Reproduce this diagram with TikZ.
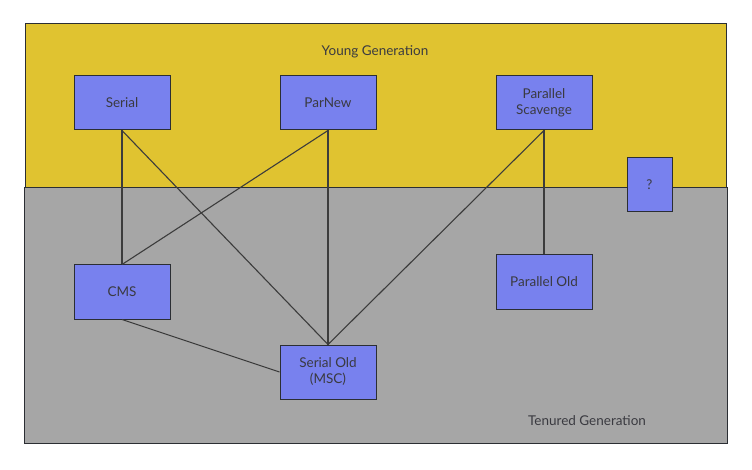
\documentclass[tikz,border=0pt]{standalone}
\usepackage{fontspec}
\setmainfont{Lato}
\definecolor{younggen}{HTML}{E0C330}
\definecolor{tenuredgen}{HTML}{A6A6A6}
\definecolor{gcblue}{HTML}{7881EE}
\definecolor{edgecol}{HTML}{2B2E33}
\definecolor{txtcol}{HTML}{3A3A40}
\definecolor{linecol}{HTML}{3C3C3C}
\begin{document}
\begin{tikzpicture}[x=1pt,y=-1pt,
  gcbox/.style={draw=edgecol,fill=gcblue,line width=1pt,minimum width=96pt,minimum height=54pt,inner sep=0pt,align=center,text=txtcol,font=\fontsize{13.5}{16}\selectfont},
  region/.style={draw=edgecol,line width=1pt},
  conn/.style={draw=linecol,line width=1.1pt},
  lbl/.style={text=txtcol,font=\fontsize{13.5}{16}\selectfont}]
\useasboundingbox (0,0) rectangle (752,470);
\fill[white] (0,0) rectangle (752,470);
\draw[region,fill=younggen] (25,24) rectangle (726,188);
\draw[region,fill=tenuredgen] (24,188) rectangle (727,443);
\node[lbl] (ylabel) at (375,51.5) {Young Generation};
\node[lbl] (tlabel) at (587,420.5) {Tenured Generation};
\node[gcbox] (serial) at (122,103) {Serial};
\node[gcbox] (parnew) at (328,103) {ParNew};
\node[gcbox] (ps) at (544,103) {Parallel\\Scavenge};
\node[gcbox,minimum width=45pt] (q) at (649.5,185) {?};
\node[gcbox] (cms) at (122,292) {CMS};
\node[gcbox] (so) at (328,372) {Serial Old\\(MSC)};
\node[gcbox] (po) at (544,282) {Parallel Old};
\draw[conn] (serial.south) -- (cms.north);
\draw[conn] (serial.south) -- (so.north);
\draw[conn] (parnew.south) -- (cms.north);
\draw[conn] (parnew.south) -- (so.north);
\draw[conn] (ps.south) -- (so.north);
\draw[conn] (ps.south) -- (po.north);
\draw[conn] (cms.south) -- (so.west);
\end{tikzpicture}
\end{document}
